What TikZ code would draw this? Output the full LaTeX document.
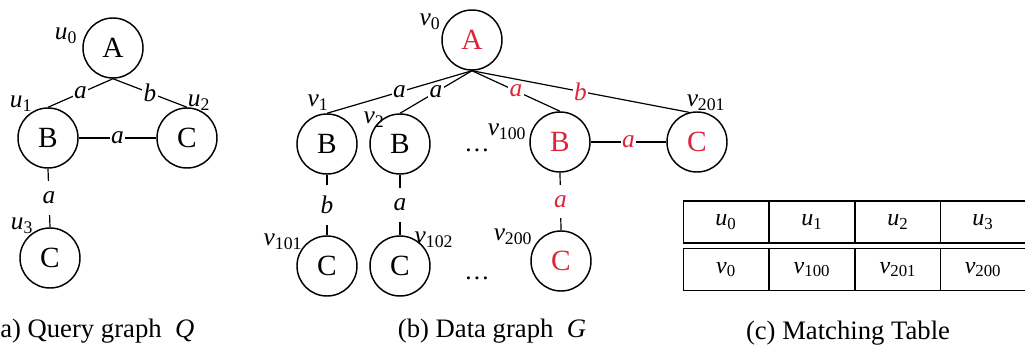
\documentclass[tikz,border=0pt]{standalone}
\usepackage{fontspec}
\setmainfont{Liberation Serif}
\definecolor{hl}{RGB}{222,36,58}
\newcommand\sublab[2]{\textit{#1}\textsubscript{#2}}
\begin{document}
\begin{tikzpicture}[x=0.75pt,y=-0.75pt,
  vert/.style={circle,draw,line width=1.1pt,minimum size=45pt,inner sep=0pt,font=\fontsize{22}{24}\selectfont},
  edge/.style={line width=0.9pt},
  elab/.style={fill=white,inner sep=1pt,font=\fontsize{19}{21}\selectfont\itshape},
  vlab/.style={fill=white,inner xsep=1pt,inner ysep=8pt,font=\fontsize{19}{21}\selectfont\itshape},
  nlab/.style={inner sep=0pt,font=\fontsize{19}{21}\selectfont},
  cell/.style={draw,line width=0.9pt,minimum width=64pt,minimum height=31.5pt,inner sep=0pt,font=\fontsize{18}{20}\selectfont},
  captext/.style={inner sep=0pt,font=\fontsize{20}{22}\selectfont}]
\useasboundingbox (0,0) rectangle (1025,349);

% ---- Query graph
\node[vert] (u0) at (113,48) {A};
\node[vert] (u1) at (48,138) {B};
\node[vert] (u2) at (187,138) {C};
\node[vert] (u3) at (50,258) {C};
\node[nlab] (lu0) at (66,36) {\sublab{u}{0}};
\node[nlab] (lu1) at (21,104) {\sublab{u}{1}};
\node[nlab] (lu2) at (199,103) {\sublab{u}{2}};
\node[nlab] (lu3) at (22,226) {\sublab{u}{3}};
\draw[edge] (u0.south) -- node[elab] {a} (u1.north);
\draw[edge] (u0.south) -- node[elab] {b} (u2.north);
\draw[edge] (u1.east) -- node[elab] {a} (u2.west);
\draw[edge] (u1.south) -- node[vlab] {a} (u3.north);
\node[captext,anchor=west] (capa) at (0,331) {a) Query graph~~\textit{Q}};

% ---- Data graph
\node[vert,text=hl] (v0) at (472,40) {A};
\node[vert] (v1) at (327,144) {B};
\node[vert] (v2) at (400,144) {B};
\node[vert,text=hl] (v100) at (560,142) {B};
\node[vert,text=hl] (v201) at (697,142) {C};
\node[vert] (v101) at (327,266) {C};
\node[vert] (v102) at (400,266) {C};
\node[vert,text=hl] (v200) at (561,261) {C};
\node[nlab] (lv0) at (430,22) {\sublab{v}{0}};
\node[nlab] (lv1) at (318,103) {\sublab{v}{1}};
\node[nlab] (lv2) at (374,120) {\sublab{v}{2}};
\node[nlab] (lv100) at (507,132) {\sublab{v}{100}};
\node[nlab] (lv201) at (706,103) {\sublab{v}{201}};
\node[nlab] (lv101) at (283,242) {\sublab{v}{101}};
\node[nlab] (lv102) at (434,240) {\sublab{v}{102}};
\node[nlab] (lv200) at (513,237) {\sublab{v}{200}};
\node[nlab] (dots1) at (477,150) {\dots};
\node[nlab] (dots2) at (477,278) {\dots};
\draw[edge] (v0.south) -- node[elab] {a} (v1.north);
\draw[edge] (v0.south) -- node[elab] {a} (v2.north);
\draw[edge] (v0.south) -- node[elab,text=hl] {a} (v100.north);
\draw[edge] (v0.south) -- node[elab,text=hl] {b} (v201.105);
\draw[edge] (v100.east) -- node[elab,text=hl] {a} (v201.west);
\draw[edge] (v1.south) -- node[vlab] {b} (v101.north);
\draw[edge] (v2.south) -- node[vlab] {a} (v102.north);
\draw[edge] (v100.south) -- node[vlab,text=hl] {a} (v200.north);
\node[captext] (capb) at (492,331) {(b) Data graph~~\textit{G}};

% ---- Matching table
\node[cell] (t00) at (726,222) {\sublab{u}{0}};
\node[cell] (t01) at (812,222) {\sublab{u}{1}};
\node[cell] (t02) at (898,222) {\sublab{u}{2}};
\node[cell] (t03) at (983,222) {\sublab{u}{3}};
\node[cell] (t10) at (726,269.5) {\sublab{v}{0}};
\node[cell] (t11) at (812,269.5) {\sublab{v}{100}};
\node[cell] (t12) at (898,269.5) {\sublab{v}{201}};
\node[cell] (t13) at (983,269.5) {\sublab{v}{200}};
\node[captext] (capc) at (848,333) {(c) Matching Table};
\end{tikzpicture}
\end{document}
